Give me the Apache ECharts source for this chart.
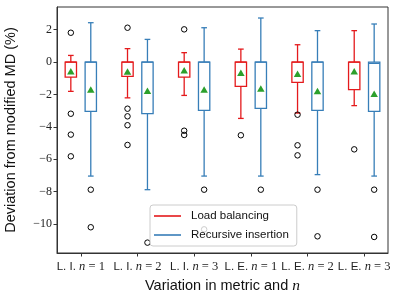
<!DOCTYPE html>
<html><head><meta charset="utf-8">
<script src="https://cdn.jsdelivr.net/npm/echarts@6/dist/echarts.min.js"></script>
<style>html,body{margin:0;padding:0;background:#fff}#c{width:399px;height:295px}</style>
</head><body><div id="c"></div>
<script>
// ---- data ----
var categories = ['L. I.', 'L. I.', 'L. I.', 'L. E.', 'L. E.', 'L. E.'];
var nValues = [1, 2, 3, 1, 2, 3];
var yTicks = [-10, -8, -6, -4, -2, 0, 2];

var lbLow  = [-1.81, -2.21, -2.06, -3.48, -3.15, -2.69];
var lbQ1   = [-0.93, -0.88, -0.93, -1.50, -1.25, -1.70];
var lbMed  = [0, 0, 0, 0, 0, 0];
var lbQ3   = [0, 0, 0, 0, 0, 0];
var lbHigh = [0.41, 0.83, 0.58, 0.80, 1.07, 1.94];
var lbMean = [-0.57, -0.58, -0.51, -0.66, -0.72, -0.57];
var lbOut  = [[1.81, -3.19, -4.48, -5.82], [2.12, -2.88, -3.35, -3.90, -5.12], [2.02, -4.24, -4.50], [-4.52], [-3.25, -5.14, -5.76], [-5.39]];

var riLow  = [-7.04, -7.88, -7.04, -7.04, -6.95, -7.04];
var riQ1   = [-3.04, -3.19, -2.98, -2.86, -2.98, -3.04];
var riMed  = [0, 0, 0, 0, 0, -0.08];
var riQ3   = [0, 0, 0, 0, 0, 0];
var riHigh = [2.43, 1.40, 2.12, 2.72, 1.94, 2.35];
var riMean = [-1.70, -1.77, -1.70, -1.64, -1.79, -1.95];
var riOut  = [[-7.88, -10.20], [-11.15], [-7.88, -10.33], [-7.88], [-7.88, -10.76], [-7.88, -10.80]];

// ---- styling / layout ----
var RED = '#e41a1c', BLUE = '#377eb8', GREEN = '#2ca02c';
var OFFSET = 0.176, BOX_W = 0.2;
var SANS = 'Liberation Sans', SERIF = 'Liberation Serif';
var positions = categories.map(function (c, i) { return i + 1; });

function boxSeries(name, color, off, low, q1, med, q3, high) {
  var data = low.map(function (v, i) { return [positions[i] + off, low[i], q1[i], med[i], q3[i], high[i]]; });
  return {
    type: 'custom', name: name, data: data, z: 2,
    itemStyle: { color: color },
    encode: { x: 0, y: [1, 2, 3, 4, 5] },
    renderItem: function (params, api) {
      var x = api.value(0);
      var half = api.size([BOX_W, 0])[0] / 2;
      var cap = half / 2;
      var pL = api.coord([x, api.value(1)]);
      var p1 = api.coord([x, api.value(2)]);
      var pM = api.coord([x, api.value(3)]);
      var p3 = api.coord([x, api.value(4)]);
      var pH = api.coord([x, api.value(5)]);
      var cx = pL[0];
      var st = { stroke: color, lineWidth: 1.3, fill: null };
      return { type: 'group', children: [
        { type: 'line', shape: { x1: cx, y1: pL[1], x2: cx, y2: p1[1] }, style: st },
        { type: 'line', shape: { x1: cx, y1: p3[1], x2: cx, y2: pH[1] }, style: st },
        { type: 'line', shape: { x1: cx - cap, y1: pL[1], x2: cx + cap, y2: pL[1] }, style: st },
        { type: 'line', shape: { x1: cx - cap, y1: pH[1], x2: cx + cap, y2: pH[1] }, style: st },
        { type: 'rect', shape: { x: cx - half, y: p3[1], width: 2 * half, height: p1[1] - p3[1] }, style: { stroke: color, lineWidth: 1.3, fill: 'none' } },
        { type: 'line', shape: { x1: cx - half, y1: pM[1], x2: cx + half, y2: pM[1] }, style: st }
      ] };
    }
  };
}
function meanSeries(off, mean) {
  return { type: 'scatter', symbol: 'triangle', symbolSize: [7.5, 6.5], z: 4, silent: true,
    itemStyle: { color: GREEN, opacity: 1 },
    data: mean.map(function (v, i) { return [positions[i] + off, v]; }) };
}
function outSeries(off, outs) {
  var d = [];
  outs.forEach(function (arr, i) { arr.forEach(function (v) { d.push([positions[i] + off, v]); }); });
  return { type: 'scatter', symbol: 'circle', symbolSize: 5.5, z: 3, silent: true,
    itemStyle: { color: 'rgba(0,0,0,0)', borderColor: '#000', borderWidth: 1, opacity: 1 },
    data: d };
}

var chart = echarts.init(document.getElementById('c'), null, { renderer: 'canvas' });
chart.setOption({
  animation: false,
  backgroundColor: '#fff',
  grid: { left: 57, top: 7, right: 11, bottom: 42, show: true, borderColor: '#333', borderWidth: 1, containLabel: false, outerBoundsMode: 'none' },
  xAxis: {
    type: 'value', min: 0.58, max: 6.42,
    splitLine: { show: false },
    axisLine: { show: true, onZero: false, lineStyle: { color: '#333', width: 1 } },
    axisTick: { show: true, length: 3.5, customValues: positions, lineStyle: { color: '#333' } },
    axisLabel: {
      customValues: positions, margin: 7, color: '#222',
      formatter: function (v) { var i = Math.round(v) - 1; return '{s|' + categories[i] + ' }{i|n}{m| = ' + nValues[i] + '}'; },
      fontFamily: SANS, fontSize: 11.5,
      rich: {
        s: { fontFamily: SANS, fontSize: 11.5, color: '#222' },
        i: { fontFamily: SERIF, fontStyle: 'italic', fontSize: 12.5, color: '#222' },
        m: { fontFamily: SERIF, fontSize: 12.5, color: '#222' }
      }
    },
    name: '{s|Variation in metric and }{i|n}', nameLocation: 'middle', nameGap: 23,
    nameTextStyle: { fontFamily: SANS, fontSize: 14.5, color: '#111', rich: {
      s: { fontFamily: SANS, fontSize: 14.5, color: '#111' },
      i: { fontFamily: SERIF, fontStyle: 'italic', fontSize: 15.5, color: '#111' } } }
  },
  yAxis: {
    type: 'value', min: -11.79, max: 3.4,
    splitLine: { show: false },
    axisLine: { show: true, onZero: false, lineStyle: { color: '#333', width: 1 } },
    axisTick: { show: true, length: 3.5, customValues: yTicks, lineStyle: { color: '#333' } },
    axisLabel: { customValues: yTicks, margin: 5, color: '#222', fontFamily: SERIF, fontSize: 12,
      formatter: function (v) { return String(v).replace('-', '\u2212'); } },
    name: 'Deviation from modified MD (%)', nameLocation: 'middle', nameGap: 39,
    nameTextStyle: { fontFamily: SANS, fontSize: 14.5, color: '#111' }
  },
  legend: {
    orient: 'vertical', left: 150, top: 205,
    padding: [4, 8, 4, 4],
    itemWidth: 27, itemHeight: 1.6, itemGap: 5, icon: 'rect',
    backgroundColor: 'rgba(255,255,255,0.8)', borderColor: '#ccc', borderWidth: 1, borderRadius: 3,
    textStyle: { fontFamily: SANS, fontSize: 11.5, color: '#111', padding: [0, 0, 0, 5], lineHeight: 14 },
    data: [{ name: 'Load balancing', itemStyle: { color: RED } }, { name: 'Recursive insertion', itemStyle: { color: BLUE } }],
    selectedMode: false, z: 10
  },
  series: [
    boxSeries('Load balancing', RED, -OFFSET, lbLow, lbQ1, lbMed, lbQ3, lbHigh),
    boxSeries('Recursive insertion', BLUE, OFFSET, riLow, riQ1, riMed, riQ3, riHigh),
    outSeries(-OFFSET, lbOut), outSeries(OFFSET, riOut),
    meanSeries(-OFFSET, lbMean), meanSeries(OFFSET, riMean)
  ]
});
</script></body></html>
